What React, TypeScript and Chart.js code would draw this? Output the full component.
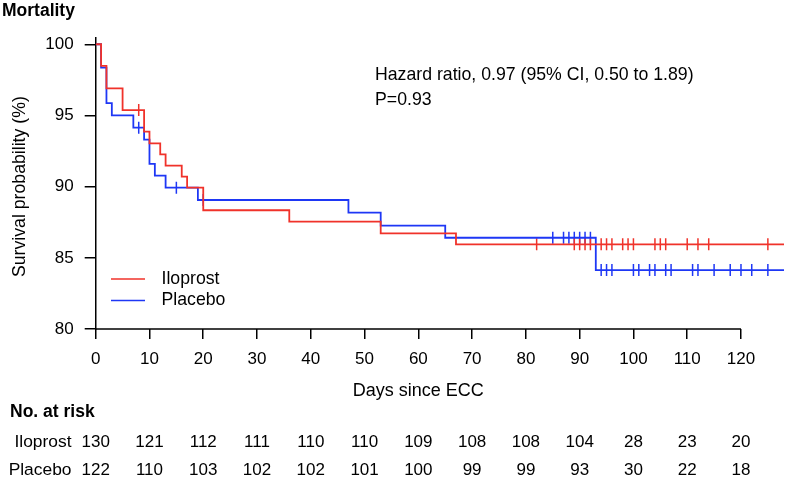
import React, { useEffect, useRef } from 'react';
import { Chart, registerables } from 'chart.js';

Chart.register(...registerables);

const FONT = "'Liberation Sans', Arial, Helvetica, sans-serif";
const RED = 'rgb(240,50,42)';
const BLUE = 'rgb(30,55,245)';

// Kaplan-Meier steps: value holds from the given day onward
const iloprostDays = [0, 1, 2, 5, 9, 10, 12, 13, 16, 17, 20, 36, 53, 67, 128];
const iloprostSurvival = [100, 98.48, 96.9, 95.38, 93.86, 93.04, 92.27, 91.47, 90.7, 89.93, 88.34, 87.54, 86.72, 85.95, 85.95];
const placeboDays = [0, 1, 2, 3, 7, 9, 10, 11, 13, 19, 47, 53, 65, 93, 128];
const placeboSurvival = [100, 98.36, 95.86, 95.0, 94.14, 93.3, 91.6, 90.77, 89.93, 89.06, 88.17, 87.26, 86.41, 84.14, 84.14];

// censoring times (days)
const iloprostCensored = [8, 82, 89, 90, 91, 92, 94, 95, 96, 98, 99, 100, 104, 105, 106, 110, 112, 114, 125];
const placeboCensored = [8, 15, 20, 85, 87, 88, 89, 90, 91, 92, 94, 95, 96, 100, 101, 103, 104, 106, 107, 111, 112, 115, 118, 120, 122, 125];

// number at risk table
const riskDays = [0, 10, 20, 30, 40, 50, 60, 70, 80, 90, 100, 110, 120];
const iloprostAtRisk = [130, 121, 112, 111, 110, 110, 109, 108, 108, 104, 28, 23, 20];
const placeboAtRisk = [122, 110, 103, 102, 102, 101, 100, 99, 99, 93, 30, 22, 18];

const seriesNames = ['Iloprost', 'Placebo'];
const hazardText = 'Hazard ratio, 0.97 (95% CI, 0.50 to 1.89)';
const pText = 'P=0.93';

function valueAt(days: number[], surv: number[], t: number): number {
  let v = surv[0];
  for (let i = 0; i < days.length; i++) {
    if (days[i] <= t) v = surv[i];
  }
  return v;
}

const overlayPlugin = {
  id: 'overlay',
  afterDraw(chart: any) {
    const ctx = chart.ctx as CanvasRenderingContext2D;
    const xs = chart.scales.x;
    const ys = chart.scales.y;
    const bottom = chart.chartArea.bottom;
    ctx.save();
    // x axis line from 0 to 120
    ctx.strokeStyle = '#000';
    ctx.lineWidth = 1.5;
    ctx.beginPath();
    ctx.moveTo(xs.getPixelForValue(0), bottom);
    ctx.lineTo(xs.getPixelForValue(120), bottom);
    ctx.stroke();

    ctx.fillStyle = '#000';
    ctx.textBaseline = 'middle';
    // x title
    ctx.font = `18px ${FONT}`;
    ctx.textAlign = 'center';
    ctx.fillText('Days since ECC', xs.getPixelForValue(60), 391);
    // y title
    ctx.font = `17.7px ${FONT}`;
    ctx.save();
    ctx.translate(20, (ys.getPixelForValue(80) + ys.getPixelForValue(100)) / 2);
    ctx.rotate(-Math.PI / 2);
    ctx.fillText('Survival probability (%)', 0, 0);
    ctx.restore();

    // annotation
    ctx.textAlign = 'left';
    ctx.fillText(hazardText, 375, 75);
    ctx.fillText(pText, 375, 100);

    // legend
    const colors = [RED, BLUE];
    const legendY = [279, 300.5];
    seriesNames.forEach((name, i) => {
      ctx.strokeStyle = colors[i];
      ctx.lineWidth = 1.5;
      ctx.beginPath();
      ctx.moveTo(111, legendY[i]);
      ctx.lineTo(145, legendY[i]);
      ctx.stroke();
      ctx.fillStyle = '#000';
      ctx.fillText(name, 161.5, legendY[i]);
    });

    // titles
    ctx.font = `bold 17.5px ${FONT}`;
    ctx.textAlign = 'left';
    ctx.fillText('Mortality', 2, 11);
    ctx.fillText('No. at risk', 10, 412);

    // risk table
    ctx.font = `17.4px ${FONT}`;
    ctx.textAlign = 'right';
    ctx.fillText(seriesNames[0], 71.5, 442);
    ctx.fillText(seriesNames[1], 71.5, 470);
    ctx.font = `17px ${FONT}`;
    ctx.textAlign = 'center';
    riskDays.forEach((d, i) => {
      const px = xs.getPixelForValue(d);
      ctx.fillText(String(iloprostAtRisk[i]), px, 442);
      ctx.fillText(String(placeboAtRisk[i]), px, 470);
    });
    ctx.restore();
  },
};

export default function App() {
  const ref = useRef<HTMLCanvasElement | null>(null);
  useEffect(() => {
    if (!ref.current) return;
    Chart.defaults.font.family = FONT;
    const stepData = (days: number[], surv: number[]) => days.map((d, i) => ({ x: d, y: surv[i] }));
    const censorData = (times: number[], days: number[], surv: number[]) =>
      times.map((t) => ({ x: t, y: valueAt(days, surv, t) }));
    const chart = new Chart(ref.current, {
      type: 'line',
      data: {
        datasets: [
          {
            label: seriesNames[0],
            data: stepData(iloprostDays, iloprostSurvival),
            borderColor: RED,
            borderWidth: 1.8,
            stepped: true,
            pointRadius: 0,
            fill: false,
          },
          {
            label: seriesNames[1],
            data: stepData(placeboDays, placeboSurvival),
            borderColor: BLUE,
            borderWidth: 1.8,
            stepped: true,
            pointRadius: 0,
            fill: false,
          },
          {
            label: seriesNames[0] + ' censored',
            data: censorData(iloprostCensored, iloprostDays, iloprostSurvival),
            showLine: false,
            borderColor: RED,
            borderWidth: 1.5,
            pointStyle: 'line',
            pointRotation: 90,
            pointRadius: 6,
          },
          {
            label: seriesNames[1] + ' censored',
            data: censorData(placeboCensored, placeboDays, placeboSurvival),
            showLine: false,
            borderColor: BLUE,
            borderWidth: 1.5,
            pointStyle: 'line',
            pointRotation: 90,
            pointRadius: 6,
          },
        ] as any,
      },
      options: {
        responsive: false,
        animation: false,
        layout: { autoPadding: false, padding: { top: 38, right: 1, left: 0, bottom: 0 } },
        plugins: { legend: { display: false }, tooltip: { enabled: false }, title: { display: false } },
        scales: {
          x: {
            type: 'linear',
            min: 0,
            max: 128,
            border: { display: false },
            grid: { drawOnChartArea: false, drawTicks: true, tickLength: 10, color: '#000', lineWidth: 1.5 },
            ticks: { stepSize: 10, includeBounds: false, color: '#000', font: { size: 17 }, padding: 10, maxRotation: 0, autoSkip: false },
            afterFit: (s: any) => { s.height = 151; s.paddingLeft = 0; s.paddingRight = 0; },
          },
          y: {
            type: 'linear',
            min: 80,
            max: 100.44,
            border: { display: true, color: '#000', width: 1.5 },
            grid: { drawOnChartArea: false, drawTicks: true, tickLength: 11, color: '#000', lineWidth: 1.5 },
            ticks: { stepSize: 5, includeBounds: false, color: '#000', font: { size: 17 }, padding: 11 },
            afterFit: (s: any) => { s.width = 95.7; s.paddingTop = 0; s.paddingBottom = 0; },
          },
        },
      } as any,
      plugins: [overlayPlugin],
    });
    return () => chart.destroy();
  }, []);
  return (
    <div style={{ position: 'fixed', left: 0, top: 0, width: 785, height: 480, background: '#fff' }}>
      <canvas ref={ref} width={785} height={480} />
    </div>
  );
}
